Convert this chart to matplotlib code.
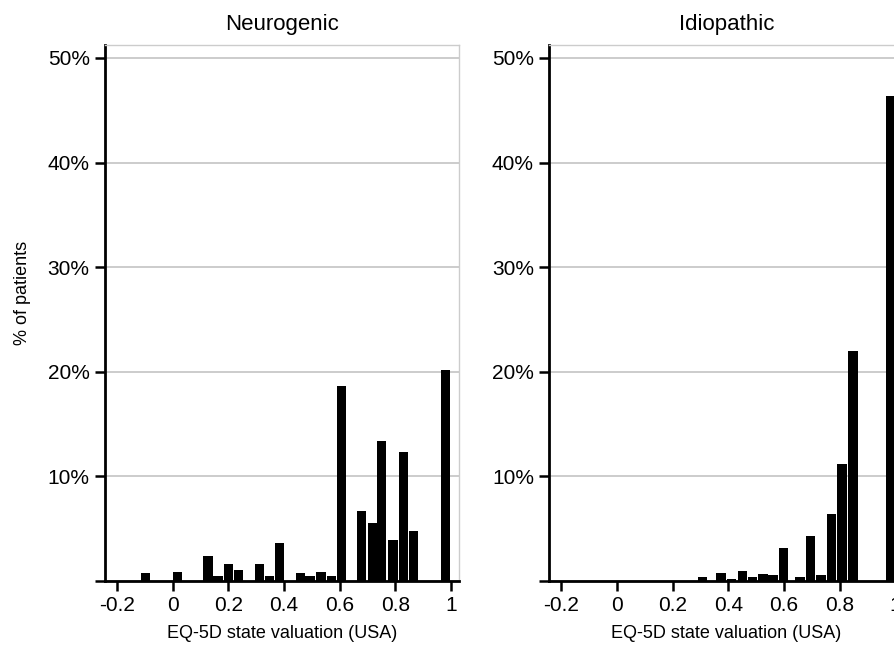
import matplotlib.pyplot as plt
import numpy as np

plt.rcParams['font.family'] = ['Liberation Sans', 'DejaVu Sans']

# EQ-5D value (bar centre) and % of patients
neuro_x = [-0.097, 0.017, 0.127, 0.163, 0.201, 0.236, 0.313, 0.349, 0.385,
           0.460, 0.494, 0.533, 0.570, 0.606, 0.680, 0.717, 0.752, 0.792,
           0.830, 0.867, 0.980]
neuro_y = [0.73, 0.83, 2.39, 0.45, 1.6, 1.1, 1.6, 0.45, 3.6,
           0.73, 0.45, 0.83, 0.45, 18.6, 6.7, 5.5, 13.4, 3.9,
           12.3, 4.75, 20.2]

idio_x = [0.309, 0.374, 0.411, 0.450, 0.487, 0.525, 0.561, 0.600, 0.658,
          0.697, 0.733, 0.771, 0.809, 0.848, 0.985]
idio_y = [0.35, 0.8, 0.22, 0.92, 0.35, 0.64, 0.54, 3.12, 0.35,
          4.27, 0.54, 6.37, 11.15, 22.0, 46.4]

xticks = [-0.2, 0, 0.2, 0.4, 0.6, 0.8, 1]
xticklabels = ['-0.2', '0', '0.2', '0.4', '0.6', '0.8', '1']
yticks = [0, 10, 20, 30, 40, 50]
yticklabels = ['', '10%', '20%', '30%', '40%', '50%']

fig = plt.figure(figsize=(8.94, 6.46), dpi=100)
ax1 = fig.add_axes([0.1174, 0.1006, 0.396, 0.8297])
ax2 = fig.add_axes([0.6144, 0.1006, 0.396, 0.8297])

for ax, xs, ys, title in [(ax1, neuro_x, neuro_y, 'Neurogenic'),
                          (ax2, idio_x, idio_y, 'Idiopathic')]:
    ax.bar(xs, ys, width=0.033, color='black', zorder=3)
    ax.set_xlim(-0.243, 1.029)
    ax.set_ylim(0, 51.24)
    ax.set_xticks(xticks)
    ax.set_xticklabels(xticklabels, fontsize=15)
    ax.set_yticks(yticks)
    ax.set_yticklabels(yticklabels, fontsize=15)
    ax.tick_params(axis='both', direction='out', length=7, width=1.8, color='black', pad=4)
    ax.yaxis.grid(True, color='#c4c4c4', linewidth=1.2, zorder=0)
    ax.set_axisbelow(True)
    for s in ['left', 'bottom']:
        ax.spines[s].set_linewidth(2)
        ax.spines[s].set_color('black')
    for s in ['top', 'right']:
        ax.spines[s].set_linewidth(1)
        ax.spines[s].set_color('#cccccc')
    ax.set_title(title, fontsize=16, pad=11)
    ax.set_xlabel('EQ-5D state valuation (USA)', fontsize=13, labelpad=7)

ax1.set_ylabel('% of patients', fontsize=13)
ax1.yaxis.set_label_coords(-0.209, 0.537)

plt.savefig('out.png', dpi=100)
